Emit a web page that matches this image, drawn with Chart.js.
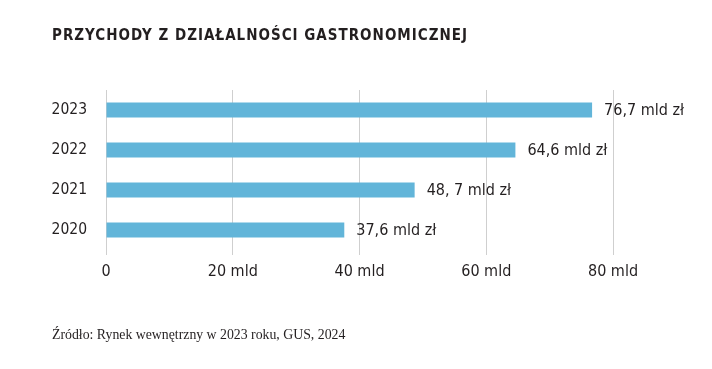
<!DOCTYPE html>
<html><head><meta charset="utf-8">
<script src="https://cdn.jsdelivr.net/npm/chart.js@4/dist/chart.umd.min.js"></script>
<style>
html,body{margin:0;padding:0;background:#fff;width:712px;height:369px;overflow:hidden}
#wrap{position:absolute;left:0;top:0;width:712px;height:369px}
#title{position:absolute;left:52px;top:26px;font-family:"DejaVu Sans Condensed","DejaVu Sans";font-weight:bold;font-size:15px;letter-spacing:1px;color:#231f20;white-space:nowrap}
#src{position:absolute;left:52px;top:327px;font-family:"Liberation Serif",serif;font-size:13.8px;color:#231f20;white-space:nowrap}
</style></head><body>
<div id="wrap"><canvas id="c" width="712" height="369"></canvas></div>
<div id="title">PRZYCHODY Z DZIAŁALNOŚCI GASTRONOMICZNEJ</div>
<div id="src">Źródło: Rynek wewnętrzny w 2023 roku, GUS, 2024</div>
<script>
const years = ['2023','2022','2021','2020'];
const revenue = [76.7, 64.6, 48.7, 37.6];
const valueLabels = ['76,7 mld zł','64,6 mld zł','48, 7 mld zł','37,6 mld zł'];
const xTicks = [0,20,40,60,80];
const xTickLabels = ['0','20 mld','40 mld','60 mld','80 mld'];

const FONT = '"DejaVu Sans Condensed","DejaVu Sans",sans-serif';

const labelPlugin = {
  id:'valueLabels',
  afterDatasetsDraw(chart){
    const ctx = chart.ctx;
    const meta = chart.getDatasetMeta(0);
    ctx.save();
    ctx.font = '16px ' + FONT;
    ctx.fillStyle = '#231f20';
    ctx.textBaseline = 'middle';
    ctx.textAlign = 'left';
    meta.data.forEach((bar,i)=>{
      ctx.fillText(valueLabels[i], bar.x + 12, bar.y + 1);
    });
    ctx.restore();
  }
};

new Chart(document.getElementById('c'), {
  type:'bar',
  data:{labels:years, datasets:[{data:revenue, backgroundColor:'#62b5d9', borderWidth:0, barPercentage:0.375, categoryPercentage:1}]},
  options:{
    indexAxis:'y',
    responsive:false,
    animation:false,
    events:[],
    layout:{padding:{left:0,right:99,top:90,bottom:79}},
    plugins:{legend:{display:false},tooltip:{enabled:false}},
    scales:{
      x:{
        min:0,max:80,
        afterBuildTicks(s){ s.ticks = xTicks.map(v=>({value:v})); },
        afterFit(s){ s.height = 40; },
        border:{display:false},
        grid:{color:'#cfcfcf',lineWidth:1,tickLength:5,drawTicks:true},
        ticks:{font:{family:FONT,size:16},color:'#231f20',padding:7,
          callback(v){ const i = xTicks.indexOf(v); return i>=0 ? xTickLabels[i] : ''; }}
      },
      y:{
        afterFit(s){ s.width = 106; },
        border:{display:false},
        grid:{display:false,drawTicks:false},
        ticks:{font:{family:FONT,size:15.5},color:'#231f20',padding:19}
      }
    }
  },
  plugins:[labelPlugin]
});
</script>
</body></html>
